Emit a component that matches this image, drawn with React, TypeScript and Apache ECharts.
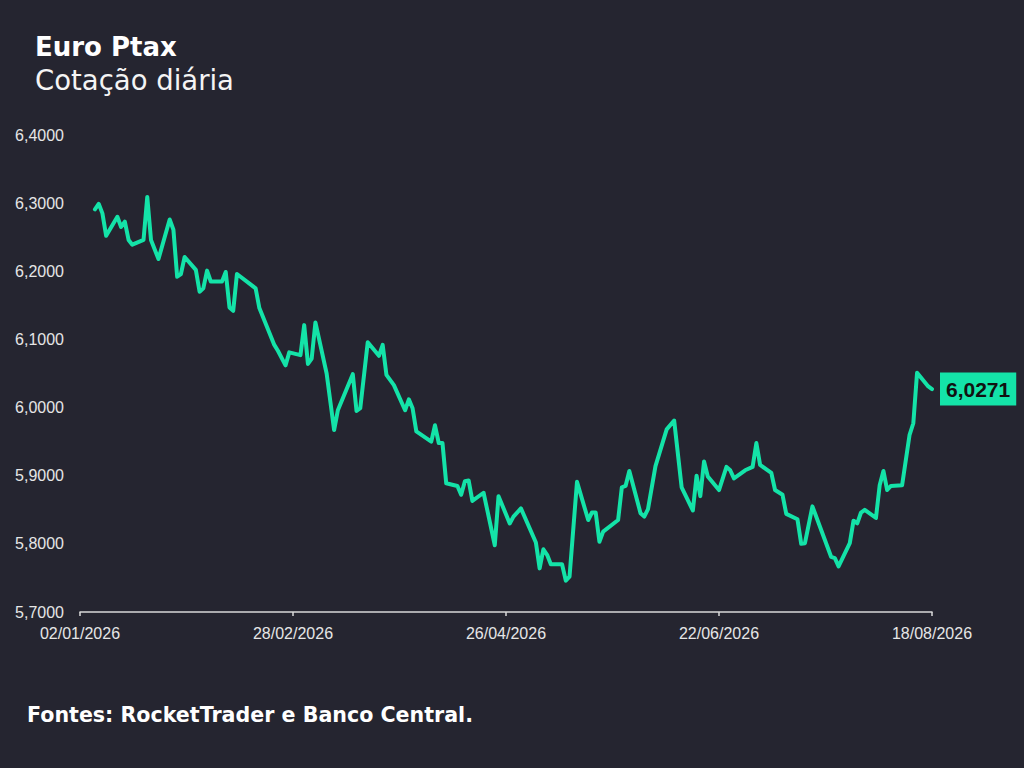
import React, { useEffect, useRef } from "react";
import * as echarts from "echarts";

const titleText = "Euro Ptax";
const subtitleText = "Cotação diária";
const sourceText = "Fontes: RocketTrader e Banco Central.";

const axisStart = "2026-01-02";
const axisEnd = "2026-08-18";
const axisStepDays = 57;
const yMin = 5.7;
const yMax = 6.4;
const yStep = 0.1;

const dates = [
  "2026-01-06", "2026-01-07", "2026-01-08", "2026-01-09", "2026-01-12", "2026-01-13", "2026-01-14", "2026-01-15", "2026-01-16",
  "2026-01-19", "2026-01-20", "2026-01-21", "2026-01-23", "2026-01-26", "2026-01-27", "2026-01-28", "2026-01-29", "2026-01-30",
  "2026-02-02", "2026-02-03", "2026-02-04", "2026-02-05", "2026-02-06", "2026-02-09", "2026-02-10", "2026-02-11", "2026-02-12",
  "2026-02-13", "2026-02-18", "2026-02-19", "2026-02-23", "2026-02-24", "2026-02-26", "2026-02-27",
  "2026-03-02", "2026-03-03", "2026-03-04", "2026-03-05", "2026-03-06", "2026-03-09", "2026-03-11", "2026-03-12", "2026-03-16",
  "2026-03-17", "2026-03-18", "2026-03-20", "2026-03-23", "2026-03-24", "2026-03-25", "2026-03-27", "2026-03-30", "2026-03-31",
  "2026-04-01", "2026-04-02", "2026-04-06", "2026-04-07", "2026-04-08", "2026-04-09", "2026-04-10", "2026-04-13", "2026-04-14",
  "2026-04-15", "2026-04-16", "2026-04-17", "2026-04-20", "2026-04-23", "2026-04-24", "2026-04-27", "2026-04-28", "2026-04-30",
  "2026-05-04", "2026-05-05", "2026-05-06", "2026-05-07", "2026-05-08", "2026-05-11", "2026-05-12", "2026-05-13", "2026-05-15",
  "2026-05-18", "2026-05-19", "2026-05-20", "2026-05-21", "2026-05-22", "2026-05-26", "2026-05-27", "2026-05-28", "2026-05-29",
  "2026-06-01", "2026-06-02", "2026-06-03", "2026-06-05", "2026-06-08", "2026-06-10", "2026-06-12", "2026-06-15", "2026-06-16",
  "2026-06-17", "2026-06-18", "2026-06-19", "2026-06-22", "2026-06-24", "2026-06-25", "2026-06-26", "2026-06-29",
  "2026-07-01", "2026-07-02", "2026-07-03", "2026-07-06", "2026-07-07", "2026-07-09", "2026-07-10", "2026-07-13", "2026-07-14",
  "2026-07-15", "2026-07-17", "2026-07-22", "2026-07-23", "2026-07-24", "2026-07-27", "2026-07-28", "2026-07-29", "2026-07-30",
  "2026-07-31", "2026-08-03", "2026-08-04", "2026-08-05", "2026-08-06", "2026-08-07", "2026-08-10", "2026-08-12", "2026-08-13",
  "2026-08-14", "2026-08-17", "2026-08-18",
];

const values = [
  6.291, 6.299, 6.285, 6.252, 6.280, 6.265, 6.273, 6.246, 6.239,
  6.246, 6.309, 6.246, 6.218, 6.276, 6.261, 6.192, 6.196, 6.221,
  6.202, 6.170, 6.175, 6.201, 6.185, 6.185, 6.199, 6.147, 6.142,
  6.196, 6.175, 6.146, 6.092, 6.083, 6.062, 6.081,
  6.077, 6.121, 6.064, 6.072, 6.125, 6.050, 5.967, 5.996, 6.049,
  5.995, 5.999, 6.096, 6.076, 6.092, 6.048, 6.033, 5.996, 6.012,
  5.999, 5.965, 5.950, 5.974, 5.948, 5.948, 5.889, 5.885, 5.872,
  5.892, 5.893, 5.863, 5.875, 5.798, 5.870, 5.830, 5.840, 5.852,
  5.802, 5.764, 5.792, 5.784, 5.770, 5.770, 5.746, 5.752, 5.891,
  5.835, 5.846, 5.846, 5.803, 5.818, 5.835, 5.883, 5.885, 5.907,
  5.845, 5.840, 5.851, 5.914, 5.968, 5.981, 5.883, 5.849, 5.900,
  5.870, 5.921, 5.899, 5.879, 5.913, 5.908, 5.896, 5.908,
  5.913, 5.948, 5.916, 5.904, 5.879, 5.872, 5.844, 5.836, 5.800,
  5.801, 5.855, 5.781, 5.779, 5.767, 5.801, 5.834, 5.830, 5.846,
  5.850, 5.838, 5.886, 5.907, 5.879, 5.885, 5.886, 5.960, 5.977,
  6.051, 6.031, 6.0271,
];

const DAY = 86400000;
const toUTC = (s: string) => {
  const [y, m, d] = s.split("-").map(Number);
  return Date.UTC(y, m - 1, d);
};
const startMs = toUTC(axisStart);
const dayIndex = (s: string) => Math.round((toUTC(s) - startMs) / DAY);
const fmtDate = (idx: number) => {
  const dt = new Date(startMs + idx * DAY);
  const dd = String(dt.getUTCDate()).padStart(2, "0");
  const mm = String(dt.getUTCMonth() + 1).padStart(2, "0");
  return `${dd}/${mm}/${dt.getUTCFullYear()}`;
};
const fmtNum = (v: number) => v.toFixed(4).replace(".", ",");

const BG = "#252530";
const LINE = "#14e3a8";
const AXIS_FONT = "'Liberation Sans', Arial, sans-serif";
const TITLE_FONT = "'DejaVu Sans', 'Open Sans', sans-serif";

export default function App() {
  const ref = useRef<HTMLDivElement>(null);

  useEffect(() => {
    if (!ref.current) return;
    const chart = echarts.init(ref.current, undefined, { renderer: "svg" });
    const seriesData = dates.map((d, i) => [dayIndex(d), values[i]]);
    const endIdx = dayIndex(axisEnd);

    chart.setOption({
      animation: false,
      backgroundColor: BG,
      graphic: [
        {
          type: "text",
          x: 35,
          y: 47,
          style: {
            text: titleText,
            fill: "#ffffff",
            fontSize: 26,
            fontWeight: "bold",
            fontFamily: TITLE_FONT,
            verticalAlign: "middle",
          },
        },
        {
          type: "text",
          x: 35,
          y: 80,
          style: {
            text: subtitleText,
            fill: "#f4f4f4",
            fontSize: 27.5,
            fontWeight: "normal",
            fontFamily: TITLE_FONT,
            verticalAlign: "middle",
          },
        },
        {
          type: "text",
          x: 27,
          y: 715,
          style: {
            text: sourceText,
            fill: "#ffffff",
            fontSize: 20.6,
            fontWeight: "bold",
            fontFamily: TITLE_FONT,
            verticalAlign: "middle",
          },
        },
      ],
      grid: { left: 80, right: 92, top: 135, bottom: 156, containLabel: false },
      xAxis: {
        type: "value",
        min: 0,
        max: endIdx,
        interval: axisStepDays,
        axisLine: { show: true, lineStyle: { color: "#d8d8d8", width: 1.5 } },
        axisTick: { show: true, length: 4, lineStyle: { color: "#d8d8d8", width: 1.5 } },
        splitLine: { show: false },
        axisLabel: {
          color: "#e6e6e6",
          fontSize: 16,
          fontFamily: AXIS_FONT,
          margin: 13,
          formatter: (v: number) => fmtDate(v),
        },
      },
      yAxis: {
        type: "value",
        min: yMin,
        max: yMax,
        interval: yStep,
        axisLine: { show: false },
        axisTick: { show: false },
        splitLine: { show: false },
        axisLabel: {
          color: "#e6e6e6",
          fontSize: 16,
          fontFamily: AXIS_FONT,
          margin: 16,
          formatter: (v: number) => fmtNum(v),
        },
      },
      series: [
        {
          type: "line",
          data: seriesData,
          symbol: "none",
          lineStyle: { color: LINE, width: 4, cap: "round", join: "round" },
          endLabel: {
            show: true,
            formatter: (p: any) => fmtNum(p.value[1]),
            backgroundColor: LINE,
            color: "#111111",
            fontSize: 21,
            fontWeight: "bold",
            fontFamily: AXIS_FONT,
            padding: [6, 6, 6, 6],
            distance: 8,
          },
        },
      ],
    });

    return () => chart.dispose();
  }, []);

  return (
    <div
      ref={ref}
      style={{ position: "fixed", left: 0, top: 0, width: 1024, height: 768 }}
    />
  );
}
